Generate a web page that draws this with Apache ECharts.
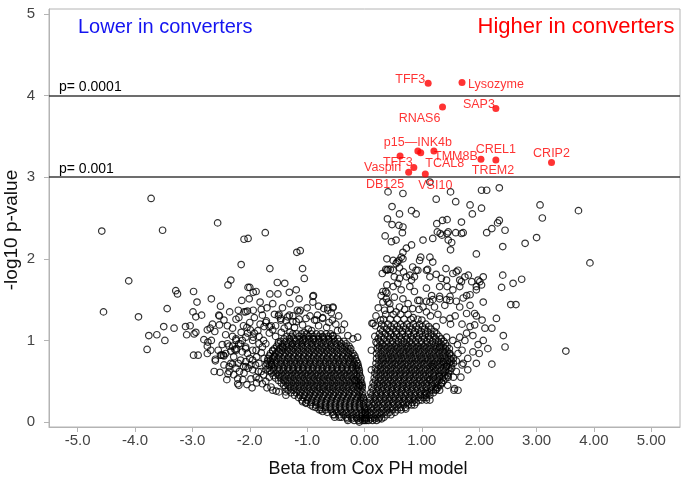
<!DOCTYPE html>
<html><head><meta charset="utf-8">
<script src="https://cdn.jsdelivr.net/npm/echarts@6/dist/echarts.min.js"></script>
<style>html,body{margin:0;padding:0;background:#fff}#c{width:683px;height:484px}</style>
</head><body><div id="c"></div>
<script>
const xTickValues = [-5,-4,-3,-2,-1,0,1,2,3,4,5];
const xTickLabels = ['-5.0','-4.0','-3.0','-2.0','-1.0','0.00','1.00','2.00','3.00','4.00','5.00'];
const yTickValues = [0,1,2,3,4,5];
const thresholdValues = [4,3];
const thresholdLabels = ['p= 0.0001','p= 0.001'];

const geneNames = ['TFF3','Lysozyme','SAP3','RNAS6','p15\u2014INK4b','TCAL8','TMM8B','TFF3','Vaspin','VSI10','DB125','CREL1','TREM2','CRIP2'];
const geneBeta  = [1.11,1.70,2.29,1.36,0.93,0.98,1.21,0.86,0.77,1.06,0.62,2.29,2.03,3.26];
const geneLogP  = [4.15,4.16,3.84,3.86,3.32,3.30,3.32,3.12,3.06,3.04,3.26,3.21,3.22,3.18];

const leftOutliers = [
[-3.72,2.74],[-4.58,2.34],[-3.52,2.35],[-2.56,2.44],[-2.10,2.24],[-2.03,2.25],[-2.15,1.93],[-4.11,1.73],[-2.33,1.74],[-2.38,1.68],
[-2.03,1.65],[-3.29,1.61],[-3.26,1.57],[-2.98,1.60],[-4.55,1.35],[-3.94,1.29],[-3.44,1.39],[-2.67,1.51],[-2.92,1.47],[-2.51,1.42],
[-2.14,1.49],[-2.99,1.35],[-2.94,1.29],[-2.84,1.31],[-2.54,1.31],[-2.20,1.37],[-2.07,1.35],[-2.24,1.26],[-3.50,1.17],[-3.32,1.15],
[-3.76,1.06],[-3.62,1.07],[-3.48,1.00],[-3.79,0.89],[-3.12,1.17],[-3.04,1.18],[-3.10,1.07],[-2.97,1.08],[-2.94,1.10],[-2.65,1.20],
[-2.74,1.13],[-2.69,1.15],[-2.61,1.11],[-2.42,1.07],[-2.39,1.18],[-2.11,1.18],[-2.80,1.01],[-2.73,0.98],[-2.67,1.00],[-2.74,0.93],
[-2.68,0.88],[-2.98,0.82],[-2.90,0.82],[-2.74,0.84],[-2.49,0.82],[-2.45,0.81],[-2.60,0.75],[-2.62,0.62],[-2.52,0.61],[-2.36,0.93],
[-2.30,0.93],[-2.33,0.87],[-2.26,0.89],[-2.36,0.68],[-2.30,0.71],[-2.38,0.59],[-2.18,0.62],[-2.10,0.60],[-2.24,1.00],[-2.16,0.96],
[-2.07,0.92],[-2.23,0.90],[-2.13,0.86],[-2.04,0.84],[-2.16,0.76],[-2.07,0.74],[-2.11,0.68],[-2.03,0.66],
[-1.73,2.32],[-1.18,2.08],[-1.12,2.10],[-1.65,1.88],[-1.08,1.88],[-1.05,1.76],[-2.00,1.65],[-1.94,1.59],[-1.89,1.60],[-1.52,1.71],
[-1.39,1.70],[-1.65,1.57],[-1.51,1.57],[-1.31,1.59],[-1.19,1.62],[-1.14,1.51],[-1.12,1.37],[-0.89,1.55],[-0.90,1.47],[-2.01,1.51],
[-1.82,1.47],[-2.10,1.35],[-2.04,1.36],[-1.94,1.37],[-2.53,1.30],[-1.78,1.31],[-1.71,1.24],[-1.63,1.18],[-1.75,1.17],[-1.50,1.30],
[-1.46,1.25],[-1.43,1.40],[-1.31,1.31],[-1.25,1.23],[-1.17,1.37],[-1.14,1.26],[-1.08,1.19],[-0.84,1.25],[-0.73,1.28],[-0.64,1.37],
[-0.55,1.40],[-0.56,1.25],[-2.24,1.02],[-2.13,1.00],[-2.04,1.09],[-1.94,1.04],[-1.84,1.05],[-0.40,1.13],[-0.29,1.06],[-0.20,1.02],
[-0.12,1.04],[-2.60,0.77],[-2.51,0.82],[-2.46,0.82],[-2.21,0.53],[-2.21,0.47],[-1.98,0.53],[-1.84,0.53],[-1.63,0.43],[-1.54,0.38],
[-1.37,0.33],[-1.08,0.25],[-0.90,0.19],[-0.73,0.13],[-0.52,0.06],[-0.29,0.02],[-0.09,0.00],[-0.09,0.45],[-0.17,0.51],
[-2.19,1.28],[-2.53,1.19],[-2.05,1.16],[-1.99,1.13],[-1.92,1.09],[-1.72,1.22],[-1.66,1.17],[-1.60,1.13],[-1.66,1.09],[-1.57,1.32],
[-1.49,1.32],[-1.46,1.27],[-1.34,1.29],[-1.37,1.24],[-1.25,1.30],[-1.19,1.23],[-1.14,1.35],[-1.02,1.27],[-0.87,1.25],[-0.82,1.31],
[-0.73,1.27],[-0.71,1.39],[-0.64,1.40],[-0.55,1.41],[-0.58,1.34],[-0.90,1.54],[-2.07,1.04],[-1.95,1.00],[-1.84,0.96],[-2.19,0.96],
[-2.24,0.88],[-2.07,0.90],[-1.89,0.88],[-2.39,0.96],[-2.42,0.84],[-2.33,0.72],[-2.24,0.66],[-2.07,0.68],[-1.95,0.64],[-2.36,0.62],
[-2.19,0.45],[-1.72,0.96],[-1.60,0.88],[-1.43,0.92],[-1.25,0.96],[-1.08,1.00],[-0.90,1.02],[-0.73,1.04],[-0.55,1.06],[-1.95,0.76],
[-1.84,0.72],[-1.72,0.64],[-1.89,0.55],[-1.78,0.47],[-1.66,0.55],[-1.60,0.39],[-1.49,0.37],[-1.37,0.37],[-1.02,0.23],[-0.79,0.15],
[-0.55,0.09],[-0.44,0.06],[-1.80,0.85],[-1.75,0.78],[-1.88,0.80],[-1.95,0.88],[-1.80,0.62],[-1.90,0.70],[-2.00,0.78],[-1.72,0.50],
[-1.85,0.62],[-1.78,0.92],[-1.55,1.05],[-1.50,0.98],[-1.30,1.10],[-1.40,1.15],[-1.22,1.16],[-0.98,1.14],[-0.66,1.16],[-0.50,1.20],
[-2.45,0.70],[-2.40,0.52],[-2.28,0.58],[-2.12,0.52],[-2.05,0.46],[-1.96,0.42],[-1.88,0.48],[-1.70,0.42],[-1.76,0.58],[-1.62,0.70],
[-1.58,0.80],[-1.76,1.00],[-1.86,1.12],[-2.00,1.22],[-1.92,1.28],[-1.82,1.20],[-1.55,1.18],[-1.45,1.10],[-1.33,1.18],[-1.25,1.08],
[-1.05,1.10],[-0.92,1.12],[-0.80,1.18],[-0.62,1.22],[-0.47,1.12],[-2.30,1.05],[-2.48,0.95],[-2.55,0.88],[-2.28,0.80],[-2.20,0.72],
[-1.98,0.70],[-2.30,1.15],[-2.15,1.10],[-1.70,1.40],[-1.60,1.45],[-1.30,1.45],[-1.00,1.40],[-0.95,1.30],[-0.80,1.42],[-0.45,1.30],
[-0.35,1.20],[-2.45,1.25],[-2.35,1.35],[-1.80,1.38]
];

const rightOutliers = [
[0.41,2.82],[0.67,2.80],[1.50,2.82],[2.04,2.84],[2.13,2.84],[2.35,2.87],[1.25,2.73],[1.59,2.70],[1.84,2.66],[2.04,2.62],
[1.88,2.55],[0.48,2.64],[0.61,2.55],[0.82,2.59],[0.90,2.55],[0.40,2.49],[0.48,2.42],[0.60,2.41],[0.67,2.39],[0.66,2.32],
[0.36,2.28],[0.47,2.21],[0.55,2.23],[0.82,2.17],[0.73,2.13],[0.67,2.08],[1.26,2.43],[1.36,2.47],[1.44,2.48],[1.32,2.31],
[1.44,2.31],[1.46,2.33],[1.59,2.32],[1.69,2.31],[1.19,2.25],[1.02,2.23],[1.46,2.23],[1.50,2.11],[1.69,2.45],[2.13,2.32],
[2.22,2.37],[2.32,2.44],[2.35,2.47],[2.45,2.35],[2.80,2.19],[3.00,2.26],[3.06,2.66],[3.10,2.50],[3.73,2.59],[3.93,1.95],
[3.51,0.87],[2.41,2.15],[1.95,2.06],[1.14,2.94],[1.52,2.20],[1.35,2.29],[1.27,2.33],[1.72,2.32],[0.67,2.00],[0.57,1.96],
[0.39,2.00],[0.60,1.98],[0.68,1.84],[0.90,1.86],[0.96,1.98],[0.98,2.02],[1.14,2.02],[1.19,1.96],
[0.50,1.98],[0.55,1.94],[0.64,2.02],[1.42,1.88],[0.41,1.87],[0.50,1.86],[0.61,1.89],[0.73,1.78],[0.52,1.78],[0.61,1.76],
[0.79,1.80],[0.87,1.78],[1.08,1.86],[1.14,1.78],[1.25,1.81],[1.34,1.76],[1.60,1.84],[1.63,1.86],[0.29,1.55],[0.32,1.60],
[0.38,1.51],[0.50,1.66],[0.58,1.70],[0.64,1.62],[0.79,1.66],[0.82,1.74],[0.87,1.60],[1.08,1.64],[1.17,1.55],[1.31,1.66],
[1.44,1.66],[1.54,1.62],[1.66,1.66],[0.32,1.47],[0.44,1.45],[0.52,1.53],[0.61,1.41],[0.67,1.51],[0.76,1.45],[0.84,1.39],
[0.93,1.49],[1.02,1.41],[1.08,1.35],[1.14,1.47],[1.22,1.41],[1.31,1.51],[1.40,1.43],[1.49,1.49],[0.84,1.90],[0.93,1.86],
[1.10,1.87],[1.43,1.74],[1.54,1.82],[1.66,1.74],[1.75,1.78],[1.81,1.80],[1.69,1.72],[1.87,1.72],[1.98,1.74],[2.07,1.78],
[2.41,1.80],[2.39,1.65],[2.59,1.70],[2.74,1.75],[1.78,1.55],[1.95,1.66],[2.01,1.72],[2.04,1.68],[1.95,1.62],[1.84,1.56],
[1.72,1.52],[1.60,1.48],[1.49,1.54],[1.43,1.50],[1.31,1.54],[1.19,1.50],[1.08,1.48],[0.96,1.49],[2.07,1.47],[1.66,1.41],
[1.84,1.43],[1.78,1.33],[1.92,1.33],[1.95,1.30],[2.55,1.44],[2.64,1.44],[2.30,1.27],[2.22,1.15],[2.42,1.06],[2.45,0.92],
[1.84,1.17],[1.92,1.19],[1.78,1.09],[1.89,1.06],[1.66,1.04],[1.54,1.00],[2.07,1.00],[1.89,0.86],[2.00,0.84],[2.22,0.71],
[1.63,0.84],[1.72,0.72],[1.70,0.70],[1.60,0.62],[1.57,0.41],[1.63,0.39],[1.56,0.39],[1.37,1.25],[1.49,1.27],[1.25,1.17],
[1.43,1.04],[1.31,0.92],[1.49,0.84],[1.37,0.74],[1.19,0.68],[1.31,0.56],[1.14,0.52],[1.08,0.35],[1.14,0.27],[1.08,0.27],
[1.43,0.68],[1.46,0.55],[1.31,0.39],[0.72,0.16],[0.87,0.21],[0.12,0.88],[0.12,0.64],[0.13,1.21],[0.19,1.18],[0.15,1.21],
[0.35,1.37],[0.41,1.47],[0.39,1.58],[0.37,1.60],[0.39,1.68],[0.31,1.82],[0.39,1.86],[0.45,1.87],[0.37,1.87],
[0.20,1.30],[0.24,1.40],[0.28,1.25],[0.45,1.38],[0.55,1.35],[0.70,1.38],[0.95,1.38],[1.15,1.30],[1.28,1.32],[1.50,1.20],
[1.58,1.30],[1.70,1.20],[1.75,1.00],[1.62,0.95],[1.70,0.88],[1.80,0.78],[1.60,0.75],[1.55,0.55],[1.68,0.55],[1.80,0.64],
[1.95,0.72],[1.45,0.45],[1.35,0.48],[1.25,0.40],[0.18,1.05],[0.20,0.98],[1.00,1.25],[0.85,1.28],[2.10,1.15],[2.15,0.90],
[1.98,0.95],[2.05,1.25]
];

const leftCoreRows = [
[1.08,[-1.18,-1.10,-1.01,-0.93,-0.84,-0.76,-0.67,-0.59]],
[1.05,[-1.35,-1.27,-1.14,-1.06,-0.97,-0.89,-0.80,-0.72,-0.63,-0.55]],
[1.02,[-1.40,-1.31,-1.23,-1.14,-1.06,-0.97,-0.89,-0.80,-0.72,-0.63,-0.55,-0.47]],
[0.99,[-1.46,-1.37,-1.29,-1.20,-1.12,-1.03,-0.95,-0.86,-0.78,-0.69,-0.61,-0.52,-0.44,-0.36]],
[0.96,[-1.50,-1.42,-1.33,-1.25,-1.16,-1.08,-0.99,-0.91,-0.82,-0.74,-0.65,-0.57,-0.48,-0.40,-0.32]],
[0.93,[-1.53,-1.44,-1.36,-1.27,-1.19,-1.10,-1.02,-0.93,-0.85,-0.76,-0.68,-0.59,-0.51,-0.42,-0.34,-0.27]],
[0.90,[-1.57,-1.48,-1.40,-1.31,-1.23,-1.14,-1.06,-0.97,-0.89,-0.80,-0.72,-0.63,-0.55,-0.46,-0.38,-0.29,-0.24]],
[0.87,[-1.60,-1.51,-1.43,-1.34,-1.26,-1.17,-1.09,-1.00,-0.92,-0.83,-0.75,-0.66,-0.58,-0.49,-0.41,-0.32,-0.25]],
[0.84,[-1.64,-1.55,-1.47,-1.38,-1.30,-1.21,-1.13,-1.04,-0.96,-0.87,-0.79,-0.70,-0.62,-0.53,-0.45,-0.36,-0.28,-0.20]],
[0.81,[-1.66,-1.57,-1.49,-1.40,-1.32,-1.23,-1.15,-1.06,-0.98,-0.89,-0.81,-0.72,-0.64,-0.55,-0.47,-0.38,-0.30,-0.22,-0.17]],
[0.78,[-1.68,-1.60,-1.51,-1.43,-1.34,-1.26,-1.17,-1.09,-1.00,-0.92,-0.83,-0.75,-0.66,-0.58,-0.49,-0.41,-0.32,-0.24,-0.16]],
[0.75,[-1.69,-1.64,-1.56,-1.47,-1.39,-1.30,-1.22,-1.13,-1.05,-0.96,-0.88,-0.79,-0.71,-0.62,-0.54,-0.45,-0.37,-0.28,-0.20,-0.14]],
[0.72,[-1.70,-1.62,-1.53,-1.45,-1.36,-1.28,-1.19,-1.11,-1.02,-0.94,-0.85,-0.77,-0.68,-0.60,-0.51,-0.43,-0.34,-0.26,-0.18,-0.12]],
[0.69,[-1.72,-1.66,-1.57,-1.49,-1.40,-1.32,-1.23,-1.15,-1.06,-0.98,-0.89,-0.81,-0.72,-0.64,-0.55,-0.47,-0.38,-0.30,-0.21,-0.14,-0.11]],
[0.66,[-1.68,-1.59,-1.51,-1.42,-1.34,-1.25,-1.17,-1.08,-1.00,-0.91,-0.83,-0.74,-0.66,-0.57,-0.49,-0.40,-0.32,-0.23,-0.15,-0.10]],
[0.63,[-1.65,-1.58,-1.49,-1.41,-1.32,-1.24,-1.15,-1.07,-0.98,-0.90,-0.81,-0.73,-0.64,-0.56,-0.47,-0.39,-0.30,-0.22,-0.13,-0.09]],
[0.60,[-1.62,-1.54,-1.45,-1.37,-1.28,-1.20,-1.11,-1.03,-0.94,-0.86,-0.77,-0.69,-0.60,-0.52,-0.43,-0.35,-0.26,-0.18,-0.09]],
[0.57,[-1.59,-1.50,-1.42,-1.33,-1.25,-1.16,-1.08,-0.99,-0.91,-0.82,-0.74,-0.65,-0.57,-0.48,-0.40,-0.31,-0.23,-0.14,-0.08]],
[0.54,[-1.55,-1.46,-1.38,-1.29,-1.21,-1.12,-1.04,-0.95,-0.87,-0.78,-0.70,-0.61,-0.53,-0.44,-0.36,-0.27,-0.19,-0.11,-0.06]],
[0.51,[-1.50,-1.41,-1.33,-1.24,-1.16,-1.07,-0.99,-0.90,-0.82,-0.73,-0.65,-0.56,-0.48,-0.39,-0.31,-0.22,-0.14,-0.07]],
[0.48,[-1.45,-1.37,-1.28,-1.20,-1.11,-1.03,-0.94,-0.86,-0.77,-0.69,-0.60,-0.52,-0.43,-0.35,-0.26,-0.18,-0.10,-0.05]],
[0.45,[-1.41,-1.33,-1.24,-1.16,-1.07,-0.99,-0.90,-0.82,-0.73,-0.65,-0.56,-0.48,-0.39,-0.31,-0.22,-0.14,-0.07,-0.04]],
[0.42,[-1.38,-1.29,-1.21,-1.12,-1.04,-0.95,-0.87,-0.78,-0.70,-0.61,-0.53,-0.44,-0.36,-0.27,-0.19,-0.11,-0.04]],
[0.39,[-1.33,-1.24,-1.16,-1.07,-0.99,-0.90,-0.82,-0.73,-0.65,-0.56,-0.48,-0.39,-0.31,-0.22,-0.13,-0.06]],
[0.36,[-1.28,-1.19,-1.11,-1.02,-0.94,-0.85,-0.77,-0.68,-0.60,-0.51,-0.43,-0.34,-0.26,-0.17,-0.09,-0.03]],
[0.33,[-1.22,-1.13,-1.05,-0.96,-0.88,-0.79,-0.71,-0.62,-0.54,-0.45,-0.37,-0.28,-0.20,-0.11,-0.04]],
[0.30,[-1.15,-1.07,-0.98,-0.90,-0.81,-0.73,-0.64,-0.56,-0.47,-0.39,-0.30,-0.22,-0.13,-0.06,-0.02]],
[0.27,[-1.09,-1.00,-0.92,-0.83,-0.75,-0.66,-0.58,-0.49,-0.41,-0.32,-0.24,-0.15,-0.07,-0.02]],
[0.24,[-1.02,-0.93,-0.85,-0.76,-0.68,-0.59,-0.51,-0.42,-0.34,-0.25,-0.17,-0.09,-0.01]],
[0.21,[-0.94,-0.85,-0.77,-0.68,-0.60,-0.51,-0.43,-0.34,-0.26,-0.17,-0.09,-0.02]],
[0.18,[-0.85,-0.77,-0.68,-0.60,-0.51,-0.43,-0.34,-0.26,-0.17,-0.09,0.00]],
[0.15,[-0.76,-0.68,-0.59,-0.51,-0.42,-0.34,-0.25,-0.17,-0.08,0.00]],
[0.12,[-0.65,-0.56,-0.48,-0.39,-0.31,-0.22,-0.14,-0.05,0.01]],
[0.09,[-0.53,-0.44,-0.36,-0.27,-0.19,-0.10,-0.03,0.02]],
[0.06,[-0.40,-0.31,-0.23,-0.14,-0.06,0.02]],
[0.04,[-0.30,-0.22,-0.13,-0.06,0.01]],
[0.02,[-0.18,-0.10,-0.03,0.03]]
];

const rightCoreRows = [
[0.02,[0.00,0.07,0.14,0.21]],
[0.04,[0.03,0.11,0.18,0.25,0.30]],
[0.06,[0.01,0.09,0.17,0.26,0.34]],
[0.09,[0.05,0.13,0.22,0.30,0.39,0.46]],
[0.12,[0.02,0.10,0.19,0.27,0.36,0.44,0.53]],
[0.15,[0.06,0.15,0.23,0.32,0.40,0.49,0.57,0.64]],
[0.18,[0.04,0.12,0.21,0.29,0.38,0.46,0.55,0.63,0.71]],
[0.21,[0.08,0.17,0.25,0.34,0.42,0.51,0.59,0.68,0.76,0.82]],
[0.24,[0.06,0.15,0.23,0.32,0.40,0.49,0.57,0.66,0.74,0.83,0.90]],
[0.27,[0.10,0.19,0.27,0.36,0.44,0.53,0.61,0.70,0.78,0.87,0.95,1.00]],
[0.30,[0.09,0.17,0.26,0.34,0.43,0.51,0.60,0.68,0.77,0.85,0.94,1.02,1.08]],
[0.33,[0.13,0.21,0.30,0.38,0.47,0.55,0.64,0.72,0.81,0.89,0.98,1.06,1.14]],
[0.36,[0.11,0.20,0.28,0.37,0.45,0.54,0.62,0.71,0.79,0.88,0.96,1.05,1.13,1.20]],
[0.39,[0.15,0.24,0.32,0.41,0.49,0.58,0.66,0.75,0.83,0.92,1.00,1.09,1.17,1.24]],
[0.42,[0.13,0.22,0.30,0.39,0.47,0.56,0.64,0.73,0.81,0.90,0.98,1.07,1.15,1.24,1.28]],
[0.45,[0.17,0.26,0.34,0.43,0.51,0.60,0.68,0.77,0.85,0.94,1.02,1.11,1.19,1.28,1.32]],
[0.48,[0.15,0.23,0.32,0.40,0.49,0.57,0.66,0.74,0.83,0.91,1.00,1.08,1.17,1.25,1.34]],
[0.51,[0.19,0.28,0.36,0.45,0.53,0.62,0.70,0.79,0.87,0.96,1.04,1.13,1.21,1.30,1.38]],
[0.54,[0.17,0.25,0.34,0.42,0.51,0.59,0.68,0.76,0.85,0.93,1.02,1.10,1.19,1.27,1.36,1.42]],
[0.57,[0.21,0.29,0.38,0.46,0.55,0.63,0.72,0.80,0.89,0.97,1.06,1.14,1.23,1.31,1.40,1.45]],
[0.60,[0.18,0.27,0.35,0.44,0.52,0.61,0.69,0.78,0.86,0.95,1.03,1.12,1.20,1.29,1.37,1.46]],
[0.63,[0.22,0.31,0.39,0.48,0.56,0.65,0.73,0.82,0.90,0.99,1.07,1.16,1.24,1.33,1.41,1.49]],
[0.66,[0.19,0.28,0.36,0.45,0.53,0.62,0.70,0.79,0.87,0.96,1.04,1.13,1.21,1.30,1.38,1.47,1.52]],
[0.69,[0.24,0.32,0.41,0.49,0.58,0.66,0.75,0.83,0.92,1.00,1.09,1.17,1.26,1.34,1.43,1.51]],
[0.72,[0.20,0.29,0.37,0.46,0.54,0.63,0.71,0.80,0.88,0.97,1.05,1.14,1.22,1.31,1.39,1.48,1.55]],
[0.75,[0.25,0.33,0.42,0.50,0.59,0.67,0.76,0.84,0.93,1.01,1.10,1.18,1.27,1.35,1.44,1.52]],
[0.78,[0.21,0.30,0.38,0.47,0.55,0.64,0.72,0.81,0.89,0.98,1.06,1.15,1.23,1.32,1.40,1.49,1.55]],
[0.81,[0.25,0.34,0.42,0.51,0.59,0.68,0.76,0.85,0.93,1.02,1.10,1.19,1.27,1.36,1.44,1.51]],
[0.84,[0.21,0.29,0.38,0.46,0.55,0.63,0.72,0.80,0.89,0.97,1.06,1.14,1.23,1.31,1.40,1.48]],
[0.87,[0.25,0.34,0.43,0.51,0.60,0.68,0.77,0.85,0.94,1.02,1.11,1.19,1.28,1.36,1.44]],
[0.90,[0.22,0.30,0.39,0.47,0.56,0.64,0.73,0.81,0.90,0.98,1.07,1.15,1.24,1.32,1.41,1.48]],
[0.93,[0.26,0.35,0.43,0.52,0.60,0.69,0.77,0.86,0.94,1.03,1.11,1.20,1.28,1.37,1.44]],
[0.96,[0.22,0.31,0.39,0.48,0.56,0.65,0.73,0.82,0.90,0.99,1.07,1.16,1.24,1.33,1.41]],
[0.99,[0.27,0.39,0.49,0.59,0.69,0.79,0.89,0.99,1.09,1.19,1.29,1.38]],
[1.02,[0.24,0.34,0.44,0.54,0.64,0.74,0.84,0.94,1.04,1.14,1.24,1.34]],
[1.05,[0.29,0.41,0.51,0.61,0.71,0.81,0.91,1.01,1.11,1.21,1.30]],
[1.08,[0.26,0.36,0.46,0.56,0.66,0.76,0.86,0.96,1.06,1.16,1.26]],
[1.11,[0.31,0.44,0.55,0.66,0.77,0.88,0.99,1.10,1.22]],
[1.14,[0.28,0.39,0.50,0.61,0.72,0.83,0.94,1.05,1.16]],
[1.17,[0.34,0.46,0.57,0.68,0.79,0.90,1.01,1.12]],
[1.20,[0.30,0.41,0.52,0.63,0.74,0.85,0.96,1.07]],
[1.26,[0.33,0.45,0.57,0.69,0.81,0.93]],
[1.32,[0.37,0.50,0.63,0.76]]
];

// label placement relative to each gene's marker (layout only)
const geneLabelOffsets = [[-18,-4],[34,2],[-17,-4],[-23,12],[0,-9],[24,11],[22,5],[-16,-5],[-26,-5],[10,12],[-15,29],[0,-10],[12,11],[0,-9]];

const FONT = '"Liberation Sans", Arial, sans-serif';
const openPoints = [];
leftOutliers.forEach(p => openPoints.push(p));
rightOutliers.forEach(p => openPoints.push(p));
leftCoreRows.concat(rightCoreRows).forEach(r => r[1].forEach(x => openPoints.push([x, r[0]])));

const genePoints = geneNames.map((n, i) => ({
  name: n,
  value: [geneBeta[i], geneLogP[i]],
  label: { offset: geneLabelOffsets[i] }
}));

const chart = echarts.init(document.getElementById('c'), null, {renderer: 'canvas'});
chart.setOption({
  animation: false,
  backgroundColor: '#fff',
  grid: { left: 49, right: 3, top: 9, bottom: 57, show: true, borderColor: '#b4b4b4', borderWidth: 1 },
  xAxis: {
    type: 'value', min: -5.5, max: 5.5,
    axisLine: { show: true, onZero: false, lineStyle: { color: '#b4b4b4', width: 1 } },
    axisTick: { show: true, length: 5, customValues: xTickValues, lineStyle: { color: '#b4b4b4' } },
    axisLabel: { customValues: xTickValues, margin: 6, color: '#444', fontFamily: FONT, fontSize: 15,
      formatter: v => xTickLabels[xTickValues.indexOf(Math.round(v))] },
    splitLine: { show: false }
  },
  yAxis: {
    type: 'value', min: -0.06, max: 5.06,
    axisLine: { show: true, onZero: false, lineStyle: { color: '#b4b4b4', width: 1 } },
    axisTick: { show: true, length: 5, customValues: yTickValues, lineStyle: { color: '#b4b4b4' } },
    axisLabel: { customValues: yTickValues, margin: 14, color: '#444', fontFamily: FONT, fontSize: 15,
      formatter: v => String(Math.round(v)) },
    splitLine: { show: false }
  },
  graphic: [
    { type: 'text', style: { x: 78, y: 27, text: 'Lower in converters', fill: '#1414f0', font: '20px ' + FONT, verticalAlign: 'middle' } },
    { type: 'text', style: { x: 576, y: 27, text: 'Higher in converters', fill: '#ff0000', font: '22px ' + FONT, align: 'center', verticalAlign: 'middle' } },
    { type: 'text', x: 12, y: 230, rotation: Math.PI / 2, style: { x: 0, y: 0, text: '-log10 p-value', fill: '#111', font: '19px ' + FONT, align: 'center', verticalAlign: 'middle' } },
    { type: 'text', style: { x: 368, y: 469, text: 'Beta from Cox PH model', fill: '#111', font: '18px ' + FONT, align: 'center', verticalAlign: 'middle' } }
  ],
  series: [
    {
      type: 'scatter',
      data: openPoints,
      symbol: 'circle', symbolSize: 6.5,
      large: false,
      itemStyle: { color: 'rgba(0,0,0,0)', borderColor: '#000', borderWidth: 1.2 },
      silent: true,
      markLine: {
        silent: true, symbol: 'none',
        lineStyle: { color: '#3c3c3c', width: 1.6, type: 'solid' },
        label: { position: 'insideStartTop', distance: [10, 1], color: '#000', fontFamily: FONT, fontSize: 14 },
        data: thresholdValues.map((v, i) => ({ yAxis: v, label: { formatter: thresholdLabels[i] } }))
      }
    },
    {
      type: 'scatter',
      data: genePoints,
      symbol: 'circle', symbolSize: 7,
      itemStyle: { color: '#ff0000' },
      label: { show: true, position: 'inside', formatter: '{b}', color: '#ff0000', fontFamily: FONT, fontSize: 12.5, align: 'center', verticalAlign: 'middle' },
      z: 5
    }
  ]
});
</script></body></html>
